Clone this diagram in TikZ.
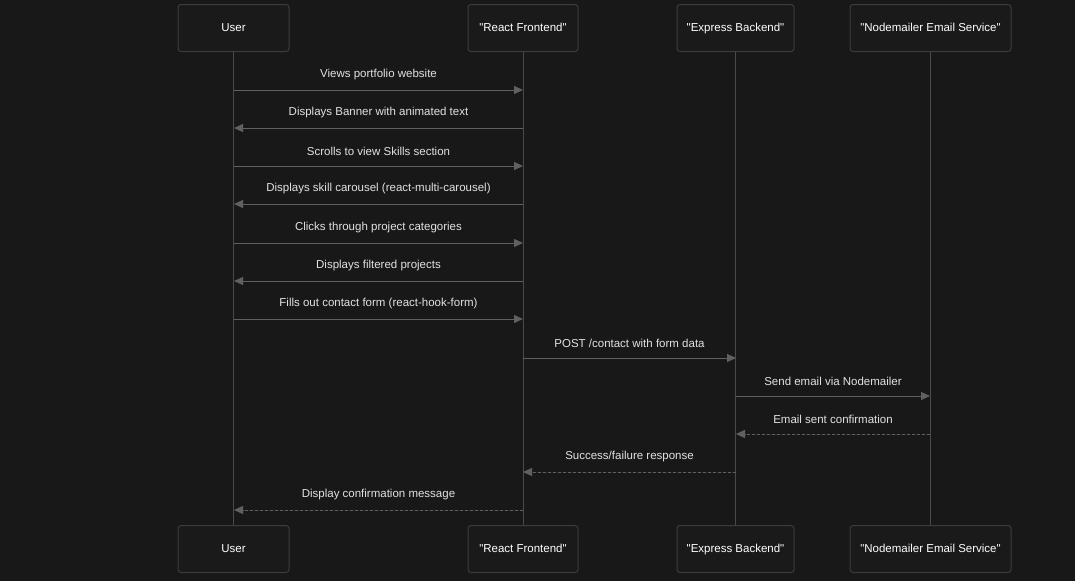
\documentclass[tikz,border=0pt]{standalone}
\usepackage{fontspec}
\setmainfont{Liberation Sans}
\usetikzlibrary{arrows.meta}
\definecolor{bg}{HTML}{181818}
\definecolor{boxfill}{HTML}{1A1A1A}
\definecolor{boxline}{HTML}{3C3C3C}
\definecolor{lifecol}{HTML}{4A4A4A}
\definecolor{msgcol}{HTML}{606060}
\definecolor{txtcol}{HTML}{E2E2E2}
\newcommand{\qq}{\textquotedbl}
\begin{document}
\begin{tikzpicture}[x=1pt,y=-1pt,
  actor/.style={draw=boxline,fill=boxfill,rounded corners=3pt,line width=1pt,
    minimum height=47pt,text=white,font=\fontsize{11.5}{13}\selectfont,inner sep=0pt,
    text height=8.5pt,text depth=2.5pt},
  life/.style={draw=lifecol,line width=1pt},
  msg/.style={draw=msgcol,line width=1pt,-{Triangle[length=9pt,width=8pt]},fill=msgcol},
  reply/.style={msg,dash pattern=on 3pt off 2pt},
  lbl/.style={text=txtcol,font=\fontsize{11.5}{13}\selectfont,inner sep=0pt}]
\fill[bg] (0,0) rectangle (1075,581);
\useasboundingbox (0,0) rectangle (1075,581);
% actors top
\node[actor,minimum width=111pt] (u1) at (233.5,28) {User};
\node[actor,minimum width=110pt] (r1) at (523,28) {\qq React Frontend\qq};
\node[actor,minimum width=117pt] (e1) at (735.5,28) {\qq Express Backend\qq};
\node[actor,minimum width=161pt] (n1) at (930.5,28) {\qq Nodemailer Email Service\qq};
% actors bottom
\node[actor,minimum width=111pt] (u2) at (233.5,549) {User};
\node[actor,minimum width=110pt] (r2) at (523,549) {\qq React Frontend\qq};
\node[actor,minimum width=117pt] (e2) at (735.5,549) {\qq Express Backend\qq};
\node[actor,minimum width=161pt] (n2) at (930.5,549) {\qq Nodemailer Email Service\qq};
% lifelines
\draw[life] (u1.south) -- (u2.north);
\draw[life] (r1.south) -- (r2.north);
\draw[life] (e1.south) -- (e2.north);
\draw[life] (n1.south) -- (n2.north);
% message endpoints
\foreach \i/\y in {1/90,2/128,3/166,4/204,5/243,6/281,7/319,8/358,9/396,10/434,11/472,12/510}{
  \coordinate (U\i) at (234,\y);
  \coordinate (R\i) at (523,\y);
  \coordinate (E\i) at (736,\y);
  \coordinate (N\i) at (930,\y);
}
\draw[msg] (U1) -- (R1) node[lbl,midway,above=9.5pt] (m1) {Views portfolio website};
\draw[msg] (R2) -- (U2) node[lbl,midway,above=9.5pt] (m2) {Displays Banner with animated text};
\draw[msg] (U3) -- (R3) node[lbl,midway,above=9.5pt] (m3) {Scrolls to view Skills section};
\draw[msg] (R4) -- (U4) node[lbl,midway,above=9.5pt] (m4) {Displays skill carousel (react-multi-carousel)};
\draw[msg] (U5) -- (R5) node[lbl,midway,above=9.5pt] (m5) {Clicks through project categories};
\draw[msg] (R6) -- (U6) node[lbl,midway,above=9.5pt] (m6) {Displays filtered projects};
\draw[msg] (U7) -- (R7) node[lbl,midway,above=9.5pt] (m7) {Fills out contact form (react-hook-form)};
\draw[msg] (R8) -- (E8) node[lbl,midway,above=9.5pt] (m8) {POST /contact with form data};
\draw[msg] (E9) -- (N9) node[lbl,midway,above=9.5pt] (m9) {Send email via Nodemailer};
\draw[reply] (N10) -- (E10) node[lbl,midway,above=9.5pt] (m10) {Email sent confirmation};
\draw[reply] (E11) -- (R11) node[lbl,midway,above=9.5pt] (m11) {Success/failure response};
\draw[reply] (R12) -- (U12) node[lbl,midway,above=9.5pt] (m12) {Display confirmation message};
\end{tikzpicture}
\end{document}
